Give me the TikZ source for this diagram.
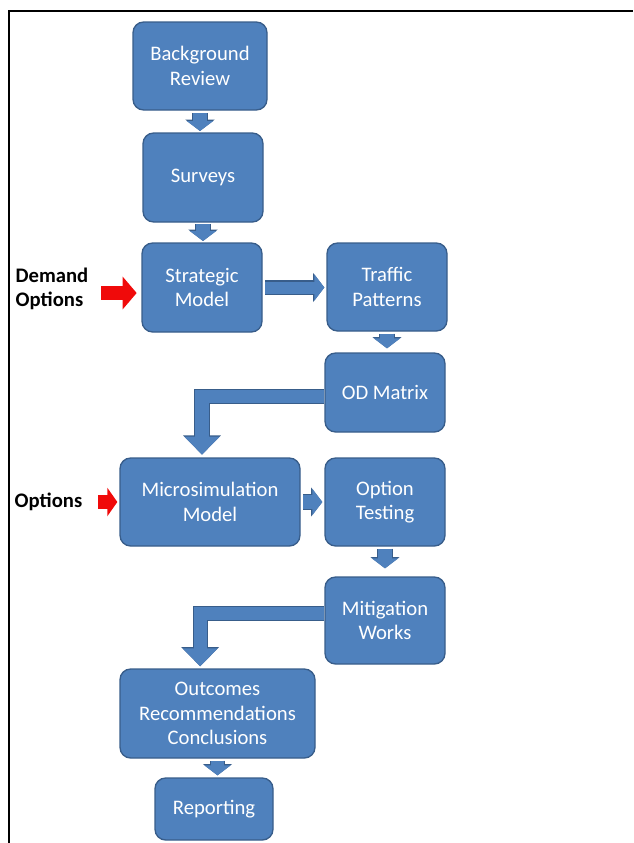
\documentclass[tikz,border=0pt]{standalone}
\usepackage{fontspec}
\setmainfont{Carlito}
\usetikzlibrary{arrows.meta,calc}
\definecolor{flowblue}{RGB}{79,129,189}
\definecolor{flowedge}{RGB}{56,93,138}
\definecolor{flowred}{RGB}{240,10,10}
\newcommand\flowfont{\fontsize{15.5}{18.5}\selectfont}
\tikzset{
  fblk/.style={rectangle, rounded corners=8pt, draw=flowedge, line width=1pt, fill=flowblue,
               text=white, align=center, font=\flowfont, inner sep=0pt},
  farr/.style={flowblue, line width=10pt, -{Triangle[width=19.5pt,length=7.5pt]},
               preaction={draw=flowedge, line width=11.5pt, -{Triangle[width=21.5pt,length=8.5pt]}}},
  fbend/.style={flowblue, line width=10pt, -{Triangle[width=25.5pt,length=13.5pt]},
               preaction={draw=flowedge, line width=11.5pt, -{Triangle[width=27.5pt,length=14.5pt]}}},
  rarr/.style={flowred, line width=10.5pt, -{Triangle[width=24pt,length=10.5pt]}},
  flbl/.style={anchor=west, align=left, font=\flowfont\bfseries},
}
\begin{document}
\begin{tikzpicture}[x=0.75pt, y=-0.75pt]
        \useasboundingbox (0,0) rectangle (633,843);
        % frame
        \draw[line width=1.5pt] (9,843) -- (9,11) -- (633,11);
        % main column
        \node[fblk,minimum width=100.5pt,minimum height=66pt](bg) at (200,66){Background\\Review};
        \node[fblk,minimum width=90pt,minimum height=66.75pt](sur) at (203,177.5){Surveys};
        \node[fblk,minimum width=90pt,minimum height=66.75pt](str) at (202,287.5){Strategic\\Model};
        \node[fblk,minimum width=90pt,minimum height=66pt](trf) at (387,287){Traffic\\Patterns};
        \node[fblk,minimum width=90pt,minimum height=59.25pt](od) at (385,392.5){OD Matrix};
        \node[fblk,minimum width=135pt,minimum height=66pt](mic) at (210,502){Microsimulation\\Model};
        \node[fblk,minimum width=90pt,minimum height=66pt](opt) at (385,502){Option\\Testing};
        \node[fblk,minimum width=90pt,minimum height=65.25pt](mit) at (385,620.5){Mitigation\\Works};
        \node[fblk,minimum width=146.25pt,minimum height=66.75pt](out) at (217.5,713.5){Outcomes\\Recommendations\\Conclusions};
        \node[fblk,minimum width=88.5pt,minimum height=46.5pt](rep) at (214,809){Reporting};
        % inputs
        \node[flbl](dmd) at (11,289){Demand\\Options};
        \node[flbl](opts) at (10,502){Options};
        % links
        \draw[farr,shorten <=2pt,shorten >=1pt](bg.south)--(bg.south |- sur.north);
        \draw[farr,shorten <=1pt,shorten >=1pt](sur.south)--(sur.south |- str.north);
        \draw[farr,line width=9pt,shorten <=2pt,shorten >=1.5pt](str.east)--(str.east -| trf.west);
        \draw[farr,shorten <=1.5pt,shorten >=3pt](trf.south)--(trf.south |- od.north);
        \draw[fbend,shorten >=2pt]([yshift=-3pt]od.west) -| ([xshift=-6pt]mic.north);
        \draw[farr,shorten <=2pt,shorten >=1.5pt](mic.east)--(mic.east -| opt.west);
        \draw[farr,shorten <=1.5pt,shorten >=6pt](opt.south)--(opt.south |- mit.north);
        \draw[fbend,shorten >=1.5pt]([yshift=5.5pt]mit.west) -| ([xshift=-13pt]out.north);
        \draw[farr,shorten <=1.5pt,shorten >=1.5pt](out.south)--(out.south |- rep.north);
        \draw[rarr,shorten <=6pt,shorten >=3.5pt]([yshift=-3pt]dmd.east)--([yshift=-3pt]dmd.east -| str.west);
        \draw[rarr,line width=11pt,-{Triangle[width=21pt,length=7.5pt]},shorten <=8.5pt,shorten >=1.5pt](opts.east)--(opts.east -| mic.west);
    \end{tikzpicture}
\end{document}
